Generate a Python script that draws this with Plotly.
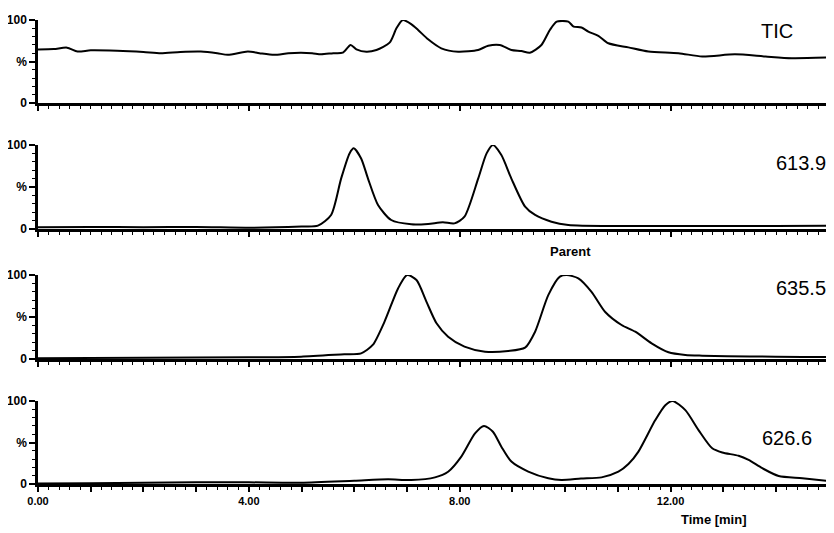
import plotly.graph_objects as go

# ---------------- data ----------------
tic_t = [0.0, 0.3, 0.55, 0.75, 1.0, 1.5, 2.0, 2.33, 2.7, 3.09, 3.4, 3.6, 3.98, 4.2, 4.48, 4.75,
         4.99, 5.2, 5.37, 5.6, 5.78, 5.93, 6.04, 6.23, 6.42, 6.67, 6.80, 6.92, 7.08, 7.21, 7.40,
         7.65, 7.97, 8.35, 8.54, 8.76, 8.98, 9.17, 9.33, 9.55, 9.71, 9.84, 10.06, 10.16, 10.31,
         10.44, 10.63, 10.82, 11.2, 11.58, 12.15, 12.6, 13.22, 13.8, 14.3, 15.1]
tic_v = [64.5, 65, 66.7, 62, 63.5, 63, 61.5, 60, 61.5, 62, 60, 58, 62, 60, 58, 60,
         60.6, 60, 58.7, 60, 60.6, 69.9, 64.7, 61.8, 63.9, 72.7, 90, 100, 95, 88, 76.7,
         65.9, 61.8, 63.9, 69, 69.9, 63.9, 62.7, 60.6, 69.9, 88, 98, 98, 92, 91,
         86, 81, 72, 67, 62, 60, 56, 58.6, 56, 54, 55]

m6139_t = [0, 1, 2, 3, 4.04, 5.0, 5.31, 5.56, 5.75, 5.91, 5.99, 6.13, 6.26, 6.45, 6.70, 7.08,
           7.4, 7.68, 7.9, 8.09, 8.35, 8.51, 8.63, 8.79, 8.98, 9.24, 9.43, 9.74, 10.06, 11, 12,
           13, 14, 15.1]
m6139_v = [2, 2.5, 2, 2.5, 1.5, 3, 4, 16.7, 60, 90, 96, 84, 60, 28.6, 10.7, 5.6,
           6, 8, 6.7, 14.7, 60, 90, 100, 88, 60, 26.6, 16.7, 8.7, 4.8, 3.5, 3.5,
           3.5, 3.5, 4]

m6355_t = [0, 2, 4, 4.99, 5.81, 6.13, 6.35, 6.57, 6.83, 7.0, 7.18, 7.37, 7.56, 7.78, 8.09, 8.48,
           8.92, 9.24, 9.43, 9.68, 9.9, 10.03, 10.25, 10.5, 10.76, 11.07, 11.33, 11.64, 11.96,
           12.28, 12.6, 13.5, 14.5, 15.1]
m6355_v = [1, 1.5, 2, 2.8, 5.6, 6.7, 16.7, 44, 84, 100, 94, 68, 42.5, 26.5, 14.7, 8.7,
           9.5, 13.5, 32.5, 76, 98, 100, 96, 80, 56, 40.5, 32.5, 18.7, 8,
           4.8, 4, 3, 2.5, 2.5]

m6266_t = [0, 1, 2, 3, 4, 4.99, 6.0, 6.64, 7.08, 7.53, 7.78, 8.03, 8.29, 8.46, 8.63, 8.79, 8.98,
           9.3, 9.68, 9.93, 10.3, 10.69, 11.01, 11.2, 11.39, 11.71, 11.9, 12.04, 12.28, 12.53,
           12.79, 12.98, 13.29, 13.48, 13.74, 14.05, 14.5, 15.1]
m6266_v = [0.5, 1, 1.5, 2, 2, 1.6, 4, 5.6, 4.8, 8, 14.8, 33, 61, 70, 63, 45, 27,
           15, 6.9, 4.8, 6.5, 8, 14.8, 24, 39, 77, 95, 100, 89, 65,
           43, 38, 34, 29, 19, 9.6, 6.9, 2.8]

panel_labels = ["TIC", "613.9", "635.5", "626.6"]
x_major = list(range(0, 16))
x_text = ["%.2f" % v if v % 4 == 0 else "" for v in x_major]
y_vals = [0, 50, 100]
y_text = ["0", "%", "100"]

series = [(tic_t, tic_v), (m6139_t, m6139_v), (m6355_t, m6355_v), (m6266_t, m6266_v)]

# ---------------- layout ----------------
OFF = 8                      # page body margin of the browser
W, H = 834 - OFF, 533 - OFF
L = 38 - OFF
PW = W - L
# panel screen-pixel positions (top=100%, bottom=0%)
panels_px = [(20, 103), (145, 229), (275, 359), (401, 484)]

def py(p):
    return 1 - (p - OFF) / H

def px(p):
    return (p - OFF - L) / PW

fig = go.Figure()
tick_font = dict(family="Liberation Sans, Arial, sans-serif", size=12, color="black", weight="bold")

for i, (t, v) in enumerate(series):
    n = i + 1
    xa = "x" if n == 1 else "x%d" % n
    ya = "y" if n == 1 else "y%d" % n
    fig.add_trace(go.Scatter(x=t, y=v, mode="lines", xaxis=xa, yaxis=ya,
                             line=dict(color="black", width=2, shape="spline", smoothing=0.7),
                             showlegend=False, hoverinfo="skip"))
    top, bot = panels_px[i]
    xkey = "xaxis" if n == 1 else "xaxis%d" % n
    ykey = "yaxis" if n == 1 else "yaxis%d" % n
    fig.layout[xkey] = dict(
        domain=[0, 1], anchor=ya, range=[0, 15.1], automargin=False,
        tickmode="array", tickvals=x_major, ticktext=x_text,
        showticklabels=(n == 4), ticks="outside", ticklen=5, tickwidth=1.5,
        tickcolor="black", showline=True, linecolor="black", linewidth=2.5,
        showgrid=False, zeroline=False, tickfont=dict(tick_font, size=11),
        minor=dict(tickmode="linear", tick0=0, dtick=0.2, ticks="outside",
                   ticklen=3, tickwidth=1, tickcolor="black", showgrid=False),
    )
    fig.layout[ykey] = dict(
        domain=[py(bot), py(top)], anchor=xa, range=[0, 100], automargin=False,
        tickmode="array", tickvals=y_vals, ticktext=y_text,
        ticks="outside", ticklen=6, tickwidth=1.5, tickcolor="black",
        showline=True, linecolor="black", linewidth=2.5,
        showgrid=False, zeroline=False, tickfont=tick_font,
        minor=dict(tickmode="linear", tick0=0, dtick=10, ticks="outside",
                   ticklen=3, tickwidth=1, tickcolor="black", showgrid=False),
    )

label_pos = [(777, 31), (801, 163), (801, 288), (787, 438)]
annotations = []
for lab, (lx, ly) in zip(panel_labels, label_pos):
    annotations.append(dict(text=lab, x=px(lx), y=py(ly), xref="paper", yref="paper",
                            showarrow=False, xanchor="center", yanchor="middle",
                            font=dict(family="Liberation Sans, Arial, sans-serif", size=20, color="black")))
annotations.append(dict(text="Parent", x=px(570), y=py(252), xref="paper", yref="paper",
                        showarrow=False, xanchor="center", yanchor="middle",
                        font=dict(family="Liberation Sans, Arial, sans-serif", size=13, color="black", weight="bold")))
annotations.append(dict(text="Time [min]", x=px(714), y=py(519), xref="paper", yref="paper",
                        showarrow=False, xanchor="center", yanchor="middle",
                        font=dict(family="Liberation Sans, Arial, sans-serif", size=13, color="black", weight="bold")))

fig.update_layout(width=W, height=H, margin=dict(l=L, r=0, t=0, b=0),
                  paper_bgcolor="white", plot_bgcolor="white",
                  annotations=annotations, showlegend=False)

fig.write_html("out.html")
